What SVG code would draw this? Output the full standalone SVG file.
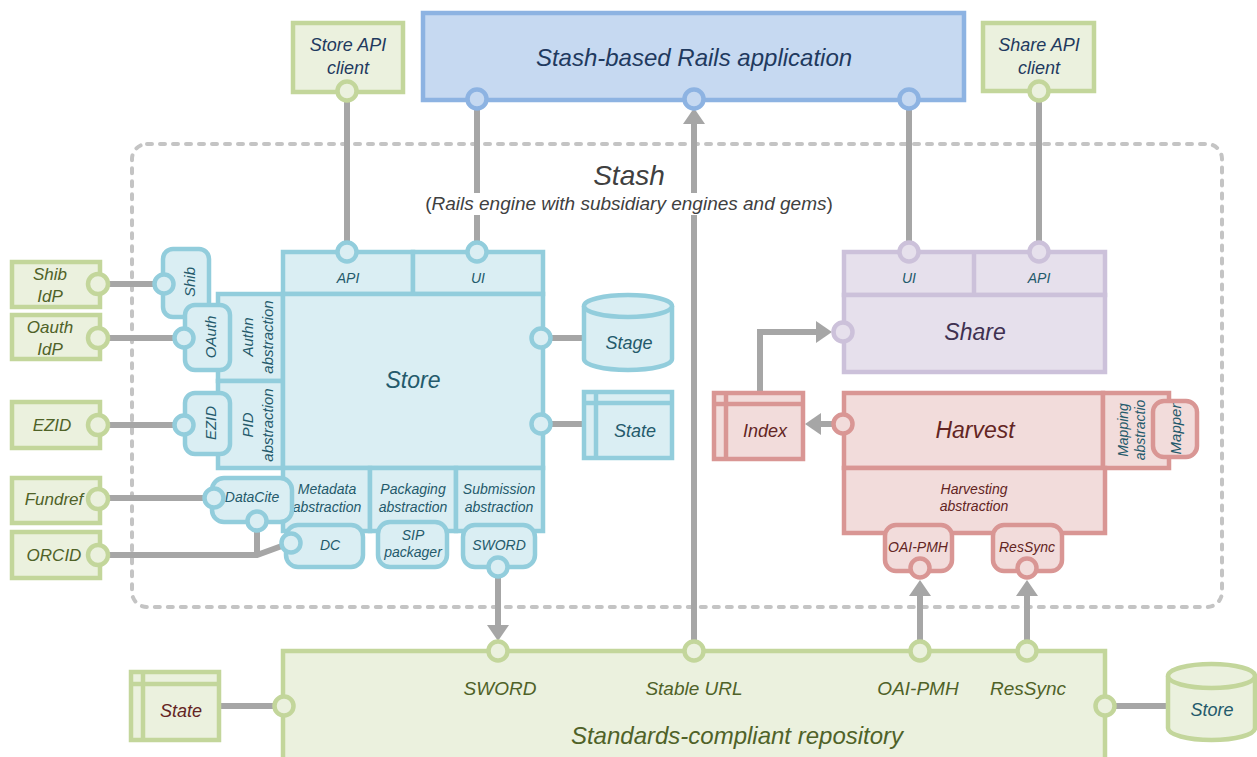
<svg xmlns="http://www.w3.org/2000/svg" width="1257" height="757" viewBox="0 0 1257 757">
<defs>
<style>
text{font-family:"Liberation Sans",Arial,sans-serif;font-style:italic;text-anchor:middle;dominant-baseline:central}
.g{fill:#ebf1de;stroke:#c3d69b;stroke-width:4.5}
.t{fill:#daeef3;stroke:#92cddc;stroke-width:4.5}
.b{fill:#c6d9f1;stroke:#8db3e2;stroke-width:4.5}
.p{fill:#e6e0ec;stroke:#ccc1da;stroke-width:4.5}
.r{fill:#f2dcdb;stroke:#d99694;stroke-width:4.5}
.w{fill:none;stroke:#a6a6a6;stroke-width:6}
.a{marker-end:url(#ah)}
.tn{fill:#1f3a5f}.to{fill:#4f6228}.tt{fill:#245a6b}.tp{fill:#3f3151}.tr{fill:#632523}
.f14{font-size:14px}.f15{font-size:15px}.f17{font-size:17px}.f18{font-size:18px}.f19{font-size:19px}.f23{font-size:23px}.f24{font-size:24px}
</style>
<marker id="ah" markerUnits="userSpaceOnUse" markerWidth="16" markerHeight="22" viewBox="0 0 16 22" refX="0" refY="11" orient="auto"><path d="M0,0 L16,11 L0,22 z" fill="#a6a6a6"/></marker>
</defs>
<rect width="1257" height="757" fill="#ffffff"/>

<g id="stash-boundary">
<rect x="132" y="144" width="1090" height="463" rx="15" fill="none" stroke="#c4c4c4" stroke-width="4" stroke-dasharray="5 8" stroke-linecap="round"/>
</g>

<g id="connectors">
<path class="w" d="M347,100 V243"/>
<path class="w" d="M477,108 V243"/>
<path class="w" d="M909,108 V243"/>
<path class="w" d="M1039,100 V243"/>
<path class="w" d="M98,284 H163"/>
<path class="w" d="M98,338 H183"/>
<path class="w" d="M98,425 H183"/>
<path class="w" d="M98,498 H213"/>
<path class="w" d="M98,555 H257 L290,543"/>
<path class="w" d="M257,521 V555"/>
<path class="w" d="M541,338 H585"/>
<path class="w" d="M541,424 H585"/>
<path class="w" d="M219,706 H284"/>
<path class="w" d="M1105,706 H1168"/>
<path class="w a" d="M498,576 V625"/>
<path class="w a" d="M694,642 V124"/>
<path class="w a" d="M920,642 V596"/>
<path class="w a" d="M1027,642 V596"/>
<path class="w a" d="M834,424 H821"/>
<path class="w a" d="M760,392 V332 H816"/>
</g>

<g id="stash-label">
<text x="629" y="175" font-size="28" fill="#404040">Stash</text>
<rect x="420" y="193" width="418" height="22" fill="#ffffff"/>
<text x="629" y="203" font-size="19" fill="#404040"><tspan font-style="normal">(</tspan>Rails engine with subsidiary engines and gems<tspan font-style="normal">)</tspan></text>
</g>

<g id="rails-app">
<rect class="b" x="423" y="13" width="541" height="87"/>
<text class="tn f24" x="694" y="57">Stash-based Rails application</text>
<circle class="b" cx="477" cy="99" r="9.5"/>
<circle class="b" cx="694" cy="99" r="9.5"/>
<circle class="b" cx="909" cy="99" r="9.5"/>
</g>

<g id="store-api-client">
<rect class="g" x="293" y="23" width="110" height="69"/>
<text class="tn f18" x="348" y="45">Store API</text>
<text class="tn f18" x="348" y="68">client</text>
<circle class="g" cx="347" cy="91" r="9.5"/>
</g>

<g id="share-api-client">
<rect class="g" x="983" y="23" width="111" height="68"/>
<text class="tn f18" x="1039" y="45">Share API</text>
<text class="tn f18" x="1039" y="68">client</text>
<circle class="g" cx="1039" cy="91" r="9.5"/>
</g>

<g id="shib-idp">
<rect class="g" x="12" y="262" width="88" height="45"/>
<text class="to f17" x="50" y="274">Shib</text>
<text class="to f17" x="50" y="296">IdP</text>
<circle class="g" cx="98" cy="284" r="10"/>
</g>
<g id="oauth-idp">
<rect class="g" x="12" y="315" width="88" height="44"/>
<text class="to f17" x="50" y="327">Oauth</text>
<text class="to f17" x="50" y="349">IdP</text>
<circle class="g" cx="98" cy="338" r="10"/>
</g>
<g id="ezid">
<rect class="g" x="12" y="402" width="88" height="46"/>
<text class="to f17" x="52" y="425">EZID</text>
<circle class="g" cx="98" cy="425" r="10"/>
</g>
<g id="fundref">
<rect class="g" x="12" y="478" width="88" height="45"/>
<text class="to f17" x="54" y="499">Fundref</text>
<circle class="g" cx="98" cy="499" r="10"/>
</g>
<g id="orcid">
<rect class="g" x="12" y="532" width="88" height="46"/>
<text class="to f17" x="54" y="555">ORCID</text>
<circle class="g" cx="98" cy="555" r="10"/>
</g>

<g id="store">
<rect class="t" x="218" y="294" width="65" height="87"/>
<rect class="t" x="218" y="381" width="65" height="87"/>
<rect class="t" x="283" y="252" width="130" height="42"/>
<rect class="t" x="413" y="252" width="130" height="42"/>
<rect class="t" x="283" y="294" width="260" height="174"/>
<rect class="t" x="283" y="468" width="87" height="63"/>
<rect class="t" x="370" y="468" width="86" height="63"/>
<rect class="t" x="456" y="468" width="87" height="63"/>
<text class="tt f14" x="348" y="278">API</text>
<text class="tt f14" x="478" y="278">UI</text>
<text class="tt f23" x="413" y="380">Store</text>
<g transform="translate(257,337) rotate(-90)"><text class="tt f15" x="0" y="-10">Authn</text><text class="tt f15" x="0" y="10">abstraction</text></g>
<g transform="translate(257,425) rotate(-90)"><text class="tt f15" x="0" y="-10">PID</text><text class="tt f15" x="0" y="10">abstraction</text></g>
<text class="tt f14" x="327" y="489">Metadata</text>
<text class="tt f14" x="327" y="507">abstraction</text>
<text class="tt f14" x="413" y="489">Packaging</text>
<text class="tt f14" x="413" y="507">abstraction</text>
<text class="tt f14" x="499" y="489">Submission</text>
<text class="tt f14" x="499" y="507">abstraction</text>
<circle class="t" cx="347" cy="252" r="9.5"/>
<circle class="t" cx="477" cy="252" r="9.5"/>
<circle class="t" cx="541" cy="338" r="9.5"/>
<circle class="t" cx="541" cy="424" r="9.5"/>
</g>

<g id="shib">
<rect class="t" x="163" y="249" width="46" height="68" rx="10"/>
<text class="tt f15" transform="translate(189,282) rotate(-90)" x="0" y="0">Shib</text>
<circle class="t" cx="164" cy="284" r="9.5"/>
</g>
<g id="oauth">
<rect class="t" x="185" y="305" width="45" height="65" rx="10"/>
<text class="tt f15" transform="translate(210,337) rotate(-90)" x="0" y="0">OAuth</text>
<circle class="t" cx="184" cy="338" r="9.5"/>
</g>
<g id="ezid-widget">
<rect class="t" x="185" y="393" width="45" height="61" rx="10"/>
<text class="tt f15" transform="translate(210,423) rotate(-90)" x="0" y="0">EZID</text>
<circle class="t" cx="184" cy="425" r="9.5"/>
</g>
<g id="datacite">
<rect class="t" x="212" y="478" width="80" height="44" rx="12"/>
<text class="tt f14" x="252" y="497">DataCite</text>
<circle class="t" cx="214" cy="498" r="9.5"/>
<circle class="t" cx="257" cy="521" r="9.5"/>
</g>
<g id="dc">
<rect class="t" x="286" y="525" width="77" height="42" rx="12"/>
<text class="tt f14" x="330" y="545">DC</text>
<circle class="t" cx="291" cy="543" r="9.5"/>
</g>
<g id="sip-packager">
<rect class="t" x="378" y="522" width="69" height="45" rx="12"/>
<text class="tt f14" x="413" y="535">SIP</text>
<text class="tt f14" x="413" y="552">packager</text>
</g>
<g id="sword-widget">
<rect class="t" x="463" y="525" width="72" height="42" rx="12"/>
<text class="tt f14" x="499" y="545">SWORD</text>
<circle class="t" cx="498" cy="567" r="9.5"/>
</g>

<g id="stage">
<path class="t" d="M584,306 A44,11 0 0 1 672,306 V359 A44,11 0 0 1 584,359 Z"/>
<path class="t" d="M584,306 A44,11 0 0 0 672,306" fill="none"/>
<text class="tt f18" x="629" y="343">Stage</text>
</g>
<g id="state-teal">
<rect class="t" x="584" y="392" width="88" height="66"/>
<path class="t" d="M584,403 H672 M596,392 V458" fill="none"/>
<text class="tt f18" x="635" y="431">State</text>
</g>

<g id="share">
<rect class="p" x="844" y="252" width="261" height="43"/>
<rect class="p" x="844" y="295" width="261" height="77"/>
<path class="p" d="M974,252 V295" fill="none"/>
<text class="tt f14" x="909" y="278">UI</text>
<text class="tt f14" x="1039" y="278">API</text>
<text class="tp f23" x="975" y="332">Share</text>
<circle class="p" cx="909" cy="252" r="9.5"/>
<circle class="p" cx="1039" cy="252" r="9.5"/>
<circle class="p" cx="843" cy="332" r="9.5"/>
</g>

<g id="index">
<rect class="r" x="714" y="393" width="89" height="66"/>
<path class="r" d="M714,404 H803 M726,393 V459" fill="none"/>
<text class="tr f18" x="765" y="431">Index</text>
</g>

<g id="harvest">
<rect class="r" x="844" y="393" width="259" height="75"/>
<rect class="r" x="1103" y="393" width="66" height="75"/>
<rect class="r" x="844" y="468" width="261" height="65"/>
<text class="tr f23" x="975" y="430">Harvest</text>
<text class="tr f14" x="974" y="489">Harvesting</text>
<text class="tr f14" x="974" y="506">abstraction</text>
<g transform="translate(1132,430) rotate(-90)"><text class="tt f14" x="0" y="-9">Mapping</text><text class="tt f14" x="0" y="8">abstractio</text></g>
<circle class="r" cx="843" cy="424" r="9.5"/>
</g>
<g id="mapper">
<rect class="r" x="1153" y="401" width="44" height="56" rx="11"/>
<text class="tt f15" transform="translate(1175,429) rotate(-90)" x="0" y="0">Mapper</text>
</g>
<g id="oai-pmh-widget">
<rect class="r" x="885" y="525" width="67" height="46" rx="11"/>
<text class="tr f14" x="918" y="547">OAI-PMH</text>
<circle class="r" cx="920" cy="568" r="9.5"/>
</g>
<g id="ressync-widget">
<rect class="r" x="993" y="525" width="69" height="46" rx="11"/>
<text class="tr f14" x="1027" y="547">ResSync</text>
<circle class="r" cx="1027" cy="568" r="9.5"/>
</g>

<g id="repository">
<rect class="g" x="283" y="651" width="822" height="120"/>
<text class="to f19" x="500" y="688">SWORD</text>
<text class="to f19" x="694" y="688">Stable URL</text>
<text class="to f19" x="918" y="688">OAI-PMH</text>
<text class="to f19" x="1028" y="688">ResSync</text>
<text class="to f24" x="737" y="735">Standards-compliant repository</text>
<circle class="g" cx="498" cy="651" r="9.5"/>
<circle class="g" cx="694" cy="651" r="9.5"/>
<circle class="g" cx="920" cy="651" r="9.5"/>
<circle class="g" cx="1027" cy="651" r="9.5"/>
<circle class="g" cx="284" cy="706" r="9.5"/>
<circle class="g" cx="1105" cy="706" r="9.5"/>
</g>

<g id="state-green">
<rect class="g" x="131" y="672" width="88" height="68"/>
<path class="g" d="M131,684 H219 M143,672 V740" fill="none"/>
<text class="tr f18" x="181" y="711">State</text>
</g>
<g id="store-green">
<path class="g" d="M1168,676 A43.5,12 0 0 1 1255,676 V728 A43.5,12 0 0 1 1168,728 Z"/>
<path class="g" d="M1168,676 A43.5,12 0 0 0 1255,676" fill="none"/>
<text class="tt f18" x="1212" y="710">Store</text>
</g>
</svg>
